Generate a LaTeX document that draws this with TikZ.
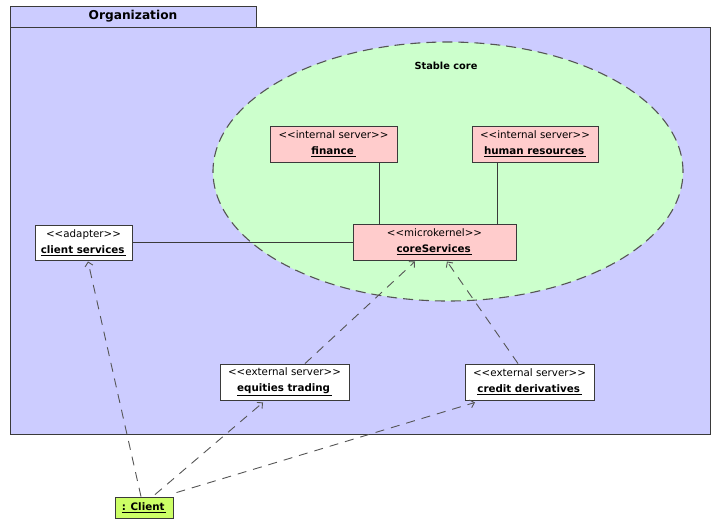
\documentclass[tikz,border=0pt]{standalone}
\usepackage{fontspec}
\setmainfont{DejaVu Sans}
\usetikzlibrary{arrows.meta,calc,shapes.geometric}
\definecolor{pkgfill}{HTML}{CCCCFF}
\definecolor{corefill}{HTML}{CCFFCC}
\definecolor{srvfill}{HTML}{FFCCCC}
\definecolor{clientfill}{HTML}{CCFF66}
\definecolor{edge}{HTML}{3A3A3A}
\definecolor{dashgray}{HTML}{555555}
\begin{document}
\begin{tikzpicture}[x=1pt,y=-1pt,
  box/.style={draw=edge, line width=0.9pt, rectangle, inner sep=0pt, align=center,
    font=\fontsize{10.3}{16}\selectfont},
  solidline/.style={draw=edge, line width=0.9pt},
  dep/.style={draw=dashgray, line width=0.9pt, dash pattern=on 9pt off 7pt,
    -{Straight Barb[length=4pt,width=8pt]}}
]
\useasboundingbox (0,0) rectangle (720,531);
% package
\node[draw=edge, line width=0.9pt, fill=pkgfill, rectangle, inner sep=0pt,
  minimum width=246pt, minimum height=21pt, font=\fontsize{12.2}{14}\selectfont\bfseries]
  (tab) at (133,16.5) {Organization};
\node[draw=edge, line width=0.9pt, fill=pkgfill, rectangle, inner sep=0pt,
  minimum width=700pt, minimum height=407pt] (org) at (360,230.5) {};
% stable core
\node[draw=dashgray, line width=1.1pt, fill=corefill, ellipse, inner sep=0pt,
  minimum width=470pt, minimum height=259pt, dash pattern=on 10pt off 6pt] (corearea) at (448,171.5) {};
\node[font=\fontsize{9.8}{12}\selectfont\bfseries] (stable) at (446,66) {Stable core};
% servers
\node[box, fill=srvfill, minimum width=127pt, minimum height=36pt] (fin) at (333.5,144)
  {{<}{<}internal server{>}{>}\\\underline{\textbf{finance\,}}};
\node[box, fill=srvfill, minimum width=126pt, minimum height=36pt] (hr) at (535,144)
  {{<}{<}internal server{>}{>}\\\underline{\textbf{human resources\,}}};
\node[box, fill=srvfill, minimum width=163pt, minimum height=36pt] (core) at (434.5,242)
  {{<}{<}microkernel{>}{>}\\\underline{\textbf{coreServices\,}}};
\node[box, fill=white, minimum width=97pt, minimum height=35pt] (cs) at (83.5,242.5)
  {{<}{<}adapter{>}{>}\\\underline{\textbf{client services\,}}};
\node[box, fill=white, minimum width=129pt, minimum height=36pt] (eq) at (284.5,382)
  {{<}{<}external server{>}{>}\\\underline{\textbf{equities trading\,}}};
\node[box, fill=white, minimum width=129pt, minimum height=36pt] (cd) at (529.5,382)
  {{<}{<}external server{>}{>}\\\underline{\textbf{credit derivatives\,}}};
\node[box, fill=clientfill, minimum width=58pt, minimum height=21pt] (client) at (144,507.5)
  {\underline{\textbf{: Client\,}}};
% solid links
\draw[solidline] ([xshift=45.5pt]fin.south) -- ([xshift=45.5pt]fin.south |- core.north);
\draw[solidline] ([xshift=-38pt]hr.south) -- ([xshift=-38pt]hr.south |- core.north);
\draw[solidline] (cs.east) -- (cs.east -| core.west);
% dependencies
\draw[dep] ([xshift=20.5pt]eq.north) -- ([xshift=-19.5pt,yshift=-1pt]core.south);
\draw[dep] ([xshift=-11.5pt]cd.north) -- ([xshift=12.5pt,yshift=-1pt]core.south);
\draw[dep] ([xshift=-3pt]client.north) -- ([xshift=4.5pt,yshift=-1pt]cs.south);
\draw[dep] ([xshift=11pt,yshift=2pt]client.north) -- ([xshift=-21.5pt,yshift=-2pt]eq.south);
\draw[dep] ([xshift=3pt,yshift=4pt]client.north east) -- ([xshift=-54.5pt,yshift=-2pt]cd.south);
\end{tikzpicture}
\end{document}
